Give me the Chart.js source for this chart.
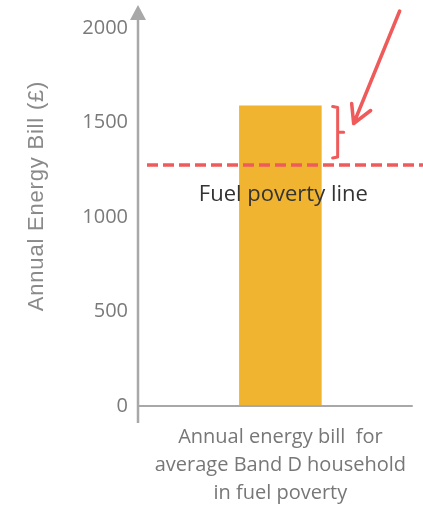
<!DOCTYPE html>
<html>
<head>
<meta charset="utf-8">
<script src="https://cdn.jsdelivr.net/npm/chart.js@4"></script>
<style>
  html, body { margin: 0; padding: 0; background: #fff; }
  canvas { display: block; }
</style>
</head>
<body>
<canvas id="billChart" width="423" height="506"></canvas>
<script>
const categories = [["Annual energy bill  for", "average Band D household", "in fuel poverty"]];
const billValues = [1590];
const povertyLine = 1275;
const yTicks = [0, 500, 1000, 1500, 2000];
const yTitle = "Annual Energy Bill (£)";
const lineLabel = "Fuel poverty line";

const RED = "#ef5a5a";
const AXIS = "#a8a8a8";

const decorations = {
  id: "decorations",
  afterDraw(chart) {
    const ctx = chart.ctx;
    const area = chart.chartArea;
    const y = chart.scales.y;
    const bar = chart.getDatasetMeta(0).data[0];

    ctx.save();

    // axes
    ctx.strokeStyle = AXIS;
    ctx.lineWidth = 2.5;
    ctx.beginPath();
    ctx.moveTo(area.left, area.bottom + 17);
    ctx.lineTo(area.left, area.top - 10);
    ctx.stroke();
    ctx.fillStyle = AXIS;
    ctx.beginPath();
    ctx.moveTo(area.left, area.top - 23);
    ctx.lineTo(area.left - 8, area.top - 8);
    ctx.lineTo(area.left + 8, area.top - 8);
    ctx.closePath();
    ctx.fill();

    ctx.lineWidth = 2;
    ctx.beginPath();
    ctx.moveTo(area.left, y.getPixelForValue(0));
    ctx.lineTo(area.right - 10, y.getPixelForValue(0));
    ctx.stroke();

    // fuel poverty line
    const py = y.getPixelForValue(povertyLine);
    ctx.strokeStyle = RED;
    ctx.lineWidth = 3.5;
    ctx.setLineDash([11, 5]);
    ctx.beginPath();
    ctx.moveTo(area.left + 9, py);
    ctx.lineTo(chart.width, py);
    ctx.stroke();
    ctx.setLineDash([]);

    ctx.fillStyle = "#333";
    ctx.font = "22px 'Open Sans'";
    ctx.textAlign = "center";
    ctx.textBaseline = "middle";
    ctx.fillText(lineLabel, bar.x + 3, py + 30);

    // bracket between bar top and poverty line
    const top = y.getPixelForValue(billValues[0]);
    const bx = bar.x + bar.width / 2 + 15;
    const mid = (top + py - 6) / 2;
    ctx.lineWidth = 3;
    ctx.lineJoin = "round";
    ctx.lineCap = "round";
    ctx.beginPath();
    ctx.moveTo(bx - 4, top + 1);
    ctx.lineTo(bx + 1, top + 2);
    ctx.lineTo(bx + 1, py - 8);
    ctx.lineTo(bx - 4, py - 7);
    ctx.moveTo(bx + 1, mid);
    ctx.lineTo(bx + 7, mid);
    ctx.stroke();

    // pointer arrow
    const tipX = bx + 17, tipY = top + 18;
    ctx.lineWidth = 3.5;
    ctx.beginPath();
    ctx.moveTo(bx + 63, 11);
    ctx.lineTo(tipX, tipY);
    ctx.moveTo(tipX - 2, tipY - 20);
    ctx.lineTo(tipX, tipY);
    ctx.lineTo(tipX + 17, tipY - 13);
    ctx.stroke();

    // y axis title
    ctx.fillStyle = "#8a8a8a";
    ctx.font = "22px 'Liberation Sans'";
    ctx.letterSpacing = "0.8px";
    ctx.textBaseline = "alphabetic";
    ctx.translate(43, 196);
    ctx.rotate(-Math.PI / 2);
    ctx.fillText(yTitle, 0, 0);

    ctx.restore();
  }
};

new Chart(document.getElementById("billChart"), {
  type: "bar",
  data: {
    labels: categories,
    datasets: [{
      data: billValues,
      backgroundColor: "#f0b431",
      borderWidth: 0,
      barPercentage: 0.29,
      categoryPercentage: 1
    }]
  },
  options: {
    responsive: false,
    devicePixelRatio: 1,
    animation: false,
    layout: { padding: { top: 28, right: 0, left: 0, bottom: 0 } },
    plugins: { legend: { display: false }, tooltip: { enabled: false } },
    scales: {
      y: {
        min: 0,
        max: 2000,
        afterBuildTicks: scale => { scale.ticks = yTicks.map(v => ({ value: v })); },
        ticks: {
          color: "#7a7a7a",
          font: { family: "Open Sans", size: 20 },
          padding: 10,
          callback: v => String(v)
        },
        grid: { display: false, drawTicks: false },
        border: { display: false },
        afterFit: scale => { scale.width = 138; }
      },
      x: {
        ticks: {
          color: "#777",
          font: { family: "Open Sans", size: 20, lineHeight: 28 / 20 },
          padding: 17
        },
        grid: { display: false, drawTicks: false },
        border: { display: false },
        afterFit: scale => { scale.height = 100; }
      }
    }
  },
  plugins: [decorations]
});
</script>
</body>
</html>
